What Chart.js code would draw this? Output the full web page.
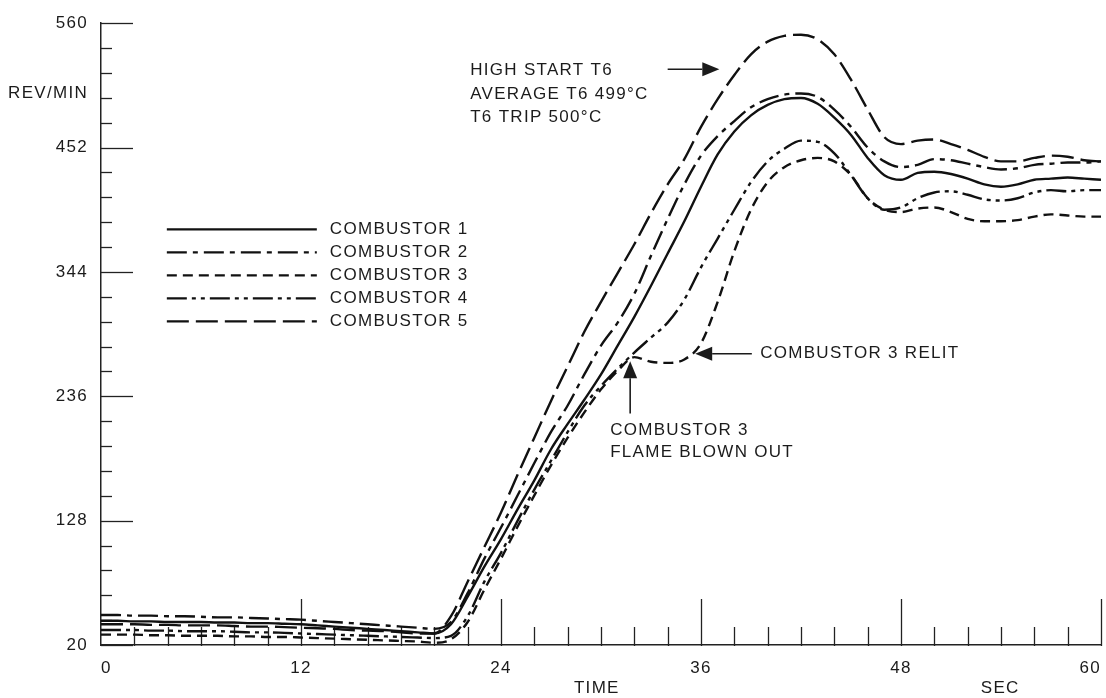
<!DOCTYPE html>
<html>
<head>
<meta charset="utf-8">
<title>Combustor start</title>
<script src="https://cdn.jsdelivr.net/npm/chart.js@4.4.1/dist/chart.umd.min.js"></script>
<style>
  body { margin: 0; background: #fff; }
  canvas { display: block; }
</style>
</head>
<body>
<canvas id="myChart" width="1106" height="698"></canvas>
<script>
// time axis, one reading per second
const seconds = Array.from({ length: 61 }, (_, i) => i);

const combustor1 = [41, 41, 40.5, 40.5, 40, 40, 40, 39.5, 39.5, 39, 39, 38.5, 38, 37, 36, 35, 34, 33, 32, 31, 30,
  38, 62, 88, 112, 138, 163, 190, 212, 233, 255, 280, 305, 332, 360, 388, 418, 446, 466, 480, 489,
  494, 495, 490, 478, 463, 443, 428, 424, 430, 431, 429, 425, 420, 418, 420, 424, 425, 426, 425, 424];
const combustor2 = [46, 46, 45.5, 45.5, 45, 45, 44.5, 44, 44, 43.5, 43, 42.5, 42, 41, 40, 39, 38, 37, 36, 35, 34,
  40, 65, 95, 122, 150, 178, 205, 228, 255, 280, 300, 325, 358, 390, 420, 445, 462, 475, 487, 494,
  498, 499, 496, 485, 470, 452, 440, 435, 437, 442, 441, 438, 435, 433, 434, 437, 438, 439, 439, 440];
const combustor3 = [29, 29, 29, 28.5, 28.5, 28, 28, 28, 27.5, 27.5, 27, 27, 26.5, 26, 25.5, 25, 24.5, 24, 23.5, 23, 22,
  25, 40, 68, 95, 123, 150, 176, 200, 222, 242, 258, 270, 266, 265, 268, 282, 318, 362, 398, 422,
  435, 441, 443, 440, 428, 408, 398, 396, 399, 400, 396, 390, 388, 388, 389, 392, 394, 393, 392, 392];
const combustor4 = [33, 33, 33, 32.5, 32.5, 32, 32, 32, 31.5, 31, 31, 30.5, 30, 29.5, 29, 28.5, 28, 27.5, 27, 26.5, 26,
  28, 45, 75, 100, 128, 155, 180, 205, 228, 245, 260, 274, 287, 300, 320, 348, 373, 398, 422, 440,
  451, 458, 457, 447, 428, 408, 398, 400, 408, 413, 414, 411, 407, 406, 408, 413, 415, 414, 415, 415];
const combustor5 = [38, 38, 38, 37.5, 37.5, 37, 37, 37, 36.5, 36, 36, 35.5, 35, 34.5, 34, 33, 32.5, 32, 31, 30, 30,
  45, 75, 105, 135, 168, 200, 232, 262, 292, 318, 343, 368, 395, 420, 442, 470, 494, 515, 533, 544,
  549, 550, 546, 533, 511, 485, 461, 455, 458, 459, 455, 450, 444, 440, 440, 443, 445, 444, 441, 440];

const seriesNames = ["COMBUSTOR 1", "COMBUSTOR 2", "COMBUSTOR 3", "COMBUSTOR 4", "COMBUSTOR 5"];
const timeTicks = [0, 12, 24, 36, 48, 60];
const revTicks = [20, 128, 236, 344, 452, 560];

const FONT = '17px "Liberation Sans", Arial, sans-serif';
const INK = "#1b1b1b";

// dash patterns, same order as seriesNames
const dashes = [[], [20, 6, 5, 6], [10, 6], [20, 5, 4, 5, 4, 5], [22, 7]];

const toPoints = (vals) => vals.map((v, i) => ({ x: seconds[i], y: v }));

const data = {
  datasets: [combustor1, combustor2, combustor3, combustor4, combustor5].map((vals, i) => ({
    label: seriesNames[i],
    data: toPoints(vals),
    borderColor: "#111",
    borderWidth: 2.4,
    borderDash: dashes[i],
    pointRadius: 0,
    cubicInterpolationMode: "monotone",
    fill: false,
  })),
};

// text notes and arrows, placed in chart units (seconds, rev/min)
const notes = [
  { text: "HIGH START T6", t: 22.15, v: 519 },
  { text: "AVERAGE T6 499°C", t: 22.15, v: 498.5 },
  { text: "T6 TRIP 500°C", t: 22.15, v: 478 },
  { text: "COMBUSTOR 3 RELIT", t: 39.55, v: 273 },
  { text: "COMBUSTOR 3", t: 30.55, v: 206.5 },
  { text: "FLAME BLOWN OUT", t: 30.55, v: 187.5 },
];
const arrows = [
  { from: [34.0, 520], to: [37.1, 520] },
  { from: [39.05, 273], to: [35.65, 273] },
  { from: [31.75, 221], to: [31.75, 266.5] },
];
const legendAt = { t: 3.95, v: 381 };

function drawArrow(ctx, x1, y1, x2, y2) {
  const ang = Math.atan2(y2 - y1, x2 - x1);
  const len = 17, half = 7;
  ctx.beginPath();
  ctx.moveTo(x1, y1);
  ctx.lineTo(x2 - Math.cos(ang) * len, y2 - Math.sin(ang) * len);
  ctx.stroke();
  ctx.beginPath();
  ctx.moveTo(x2, y2);
  ctx.lineTo(x2 - Math.cos(ang) * len - Math.sin(ang) * half, y2 - Math.sin(ang) * len + Math.cos(ang) * half);
  ctx.lineTo(x2 - Math.cos(ang) * len + Math.sin(ang) * half, y2 - Math.sin(ang) * len - Math.cos(ang) * half);
  ctx.closePath();
  ctx.fill();
}

const decorPlugin = {
  id: "decor",
  beforeDraw(chart) {
    chart.ctx.letterSpacing = "1.3px";
  },
  beforeDatasetsDraw(chart) {
    const { ctx, scales: { x, y } } = chart;
    ctx.save();
    ctx.strokeStyle = "#222";
    ctx.lineWidth = 1.3;
    // inward ticks on the rev/min axis, 5 steps between labels
    const left = x.getPixelForValue(0);
    for (let i = 0; i < revTicks.length; i++) {
      const py = Math.round(y.getPixelForValue(revTicks[i])) + 0.5;
      ctx.beginPath(); ctx.moveTo(left, py); ctx.lineTo(left + 32, py); ctx.stroke();
      if (i === revTicks.length - 1) break;
      const step = (revTicks[i + 1] - revTicks[i]) / 5;
      for (let j = 1; j < 5; j++) {
        const pm = Math.round(y.getPixelForValue(revTicks[i] + j * step)) + 0.5;
        ctx.beginPath(); ctx.moveTo(left, pm); ctx.lineTo(left + 11, pm); ctx.stroke();
      }
    }
    // inward ticks on the time axis, every 2 s
    const bottom = y.getPixelForValue(20) + 1;
    for (let i = 0; i < timeTicks.length - 1; i++) {
      const step = (timeTicks[i + 1] - timeTicks[i]) / 6;
      for (let j = 1; j <= 6; j++) {
        const tv = timeTicks[i] + j * step;
        const px = Math.round(x.getPixelForValue(tv)) + 0.5;
        ctx.beginPath(); ctx.moveTo(px, bottom); ctx.lineTo(px, bottom - (j === 6 ? 47 : 19)); ctx.stroke();
      }
    }
    ctx.restore();
  },
  afterDatasetsDraw(chart) {
    const { ctx, scales: { x, y }, chartArea } = chart;
    ctx.save();
    ctx.font = FONT;
    ctx.fillStyle = INK;
    ctx.strokeStyle = INK;
    ctx.textBaseline = "middle";
    ctx.textAlign = "left";

    notes.forEach((n) => ctx.fillText(n.text, x.getPixelForValue(n.t), y.getPixelForValue(n.v)));

    ctx.lineWidth = 1.6;
    arrows.forEach((a) => drawArrow(ctx,
      x.getPixelForValue(a.from[0]), y.getPixelForValue(a.from[1]),
      x.getPixelForValue(a.to[0]), y.getPixelForValue(a.to[1])));

    // legend
    const lx = x.getPixelForValue(legendAt.t);
    const ly = y.getPixelForValue(legendAt.v);
    chart.data.datasets.forEach((ds, i) => {
      const yy = ly + i * 23;
      ctx.save();
      ctx.lineWidth = 2.2;
      ctx.strokeStyle = "#111";
      ctx.setLineDash(ds.borderDash);
      ctx.beginPath(); ctx.moveTo(lx, yy); ctx.lineTo(lx + 150, yy); ctx.stroke();
      ctx.restore();
      ctx.fillText(ds.label, lx + 163, yy);
    });

    // axis names
    ctx.textAlign = "right";
    ctx.fillText("REV/MIN", chartArea.left - 13, y.getPixelForValue(499));
    ctx.textAlign = "center";
    ctx.fillText("TIME", x.getPixelForValue(29.75), chartArea.bottom + 43);
    ctx.fillText("SEC", x.getPixelForValue(53.95), chartArea.bottom + 43);
    ctx.restore();
  },
};

const tickFont = { family: '"Liberation Sans", Arial, sans-serif', size: 17 };

new Chart(document.getElementById("myChart"), {
  type: "line",
  data,
  options: {
    responsive: false,
    devicePixelRatio: 1,
    animation: false,
    events: [],
    layout: { padding: { left: 0, right: 5, top: 14, bottom: 0 } },
    plugins: { legend: { display: false }, tooltip: { enabled: false } },
    scales: {
      x: {
        type: "linear",
        min: 0,
        max: 60,
        afterBuildTicks: (s) => { s.ticks = timeTicks.map((v) => ({ value: v })); },
        afterFit: (s) => { s.height = 53; s.paddingLeft = 0; s.paddingRight = 0; },
        grid: { display: false, drawTicks: false },
        border: { display: true, color: "#222", width: 1.5 },
        ticks: { color: INK, font: tickFont, padding: 13, maxRotation: 0, autoSkip: false, align: "inner" },
      },
      y: {
        type: "linear",
        min: 20,
        max: 560,
        afterBuildTicks: (s) => { s.ticks = revTicks.map((v) => ({ value: v })); },
        afterFit: (s) => { s.width = 101; },
        grid: { display: false, drawTicks: false },
        border: { display: true, color: "#222", width: 1.5 },
        ticks: { color: INK, font: tickFont, padding: 13 },
      },
    },
  },
  plugins: [decorPlugin],
});
</script>
</body>
</html>
